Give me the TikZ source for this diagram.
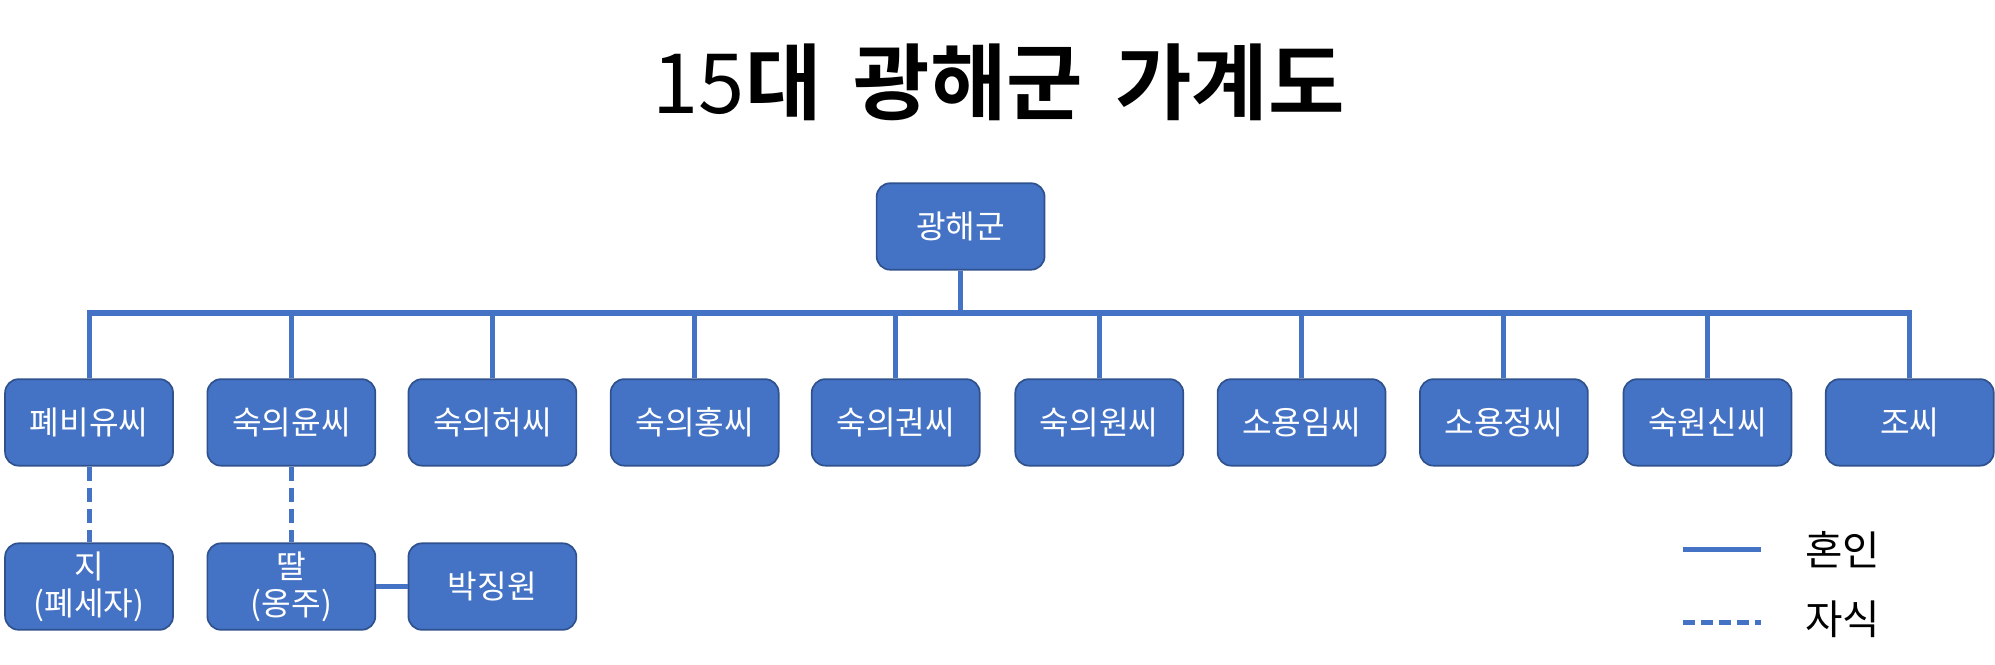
\documentclass[tikz,border=0pt]{standalone}
\usepackage{fontspec}
\setmainfont{Noto Sans CJK KR}
\newfontfamily\krbold{Noto Sans CJK KR Bold}
\definecolor{boxblue}{HTML}{4472C4}
\definecolor{boxedge}{HTML}{2F528F}
\begin{document}
\begin{tikzpicture}[x=0.75pt,y=-0.75pt,
  fam/.style={draw=boxedge,line width=1pt,fill=boxblue,rounded corners=8pt,
    minimum width=99pt,minimum height=51pt,inner sep=0pt,text=white,
    font=\fontsize{19}{22}\selectfont,align=center},
  conn/.style={draw=boxblue,line width=3pt},
  kid/.style={draw=boxblue,line width=3pt,dash pattern=on 8.5pt off 4pt}]
\useasboundingbox (0,0) rectangle (1568,522);
\node[font=\fontsize{49}{53}\selectfont] (title) at (785,65)
  {{\rmfamily 15}{\krbold 대}\hspace{19pt}{\krbold 광해군}\hspace{19pt}{\krbold 가계도}};
\node[fam] (king) at (755,178) {광해군};
\coordinate (bar) at (0,246);
\node[fam] (w1) at (70,332) {폐비유씨};
\node[fam] (w2) at (229,332) {숙의윤씨};
\node[fam] (w3) at (387,332) {숙의허씨};
\node[fam] (w4) at (546,332) {숙의홍씨};
\node[fam] (w5) at (704,332) {숙의권씨};
\node[fam] (w6) at (864,332) {숙의원씨};
\node[fam] (w7) at (1023,332) {소용임씨};
\node[fam] (w8) at (1182,332) {소용정씨};
\node[fam] (w9) at (1342,332) {숙원신씨};
\node[fam] (w10) at (1501,332) {조씨};
\node[fam] (c1) at (70,461) {지\\(폐세자)};
\node[fam] (c2) at (229,461) {딸\\(옹주)};
\node[fam] (sp) at (387,461) {박징원};
\draw[conn,line cap=rect] (w1.north |- bar) -- (w10.north |- bar);
\draw[conn] (king.south) -- (king.south |- bar);
\foreach \n in {w1,w2,w3,w4,w5,w6,w7,w8,w9,w10}
  \draw[conn] (\n.north) -- (\n.north |- bar);
\draw[kid] (w1.south) -- (c1.north);
\draw[kid] (w2.south) -- (c2.north);
\draw[conn] (c2.east) -- (sp.west);
% legend
\coordinate (l1a) at (1323,432);
\coordinate (l1b) at (1384,432);
\coordinate (l2a) at (1323,489);
\coordinate (l2b) at (1384,489);
\draw[conn] (l1a) -- (l1b);
\draw[kid,dash pattern=on 7pt off 3.5pt] (l2a) -- (l2b);
\node[anchor=west,font=\fontsize{24}{28}\selectfont] (lg1) at (1414,432) {혼인};
\node[anchor=west,font=\fontsize{24}{28}\selectfont] (lg2) at (1414,487) {자식};
\end{tikzpicture}
\end{document}
